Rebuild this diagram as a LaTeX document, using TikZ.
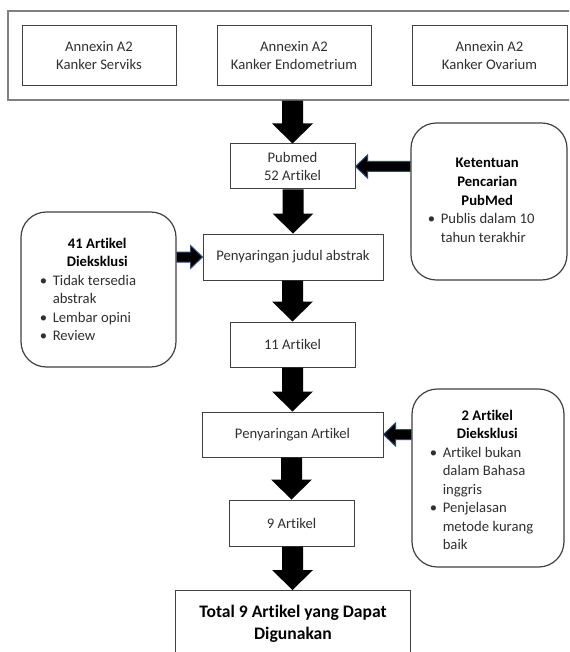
\documentclass[tikz,border=0pt]{standalone}
\usepackage{fontspec}
\setmainfont{Carlito}[Ligatures={NoCommon,NoRare,NoContextual}]
\usetikzlibrary{calc}
\newlength\pxu
\setlength\pxu{0.75pt}
\definecolor{boxline}{HTML}{404040}
\definecolor{outerline}{HTML}{808080}
\definecolor{arrowline}{HTML}{2F4A7A}
\definecolor{txt}{HTML}{303030}
\newcommand\bul{\makebox[13\pxu][l]{\textbullet}}
\newcommand\cont{\hspace*{13\pxu}}
\newcommand\blockdown[2]{%
  \fill[black] let \p1=(#1.south), \p2=(#2.north) in
   (\x2-10.5\pxu,\y1) -- (\x2-10.5\pxu,\y2+20\pxu) -- (\x2-20.5\pxu,\y2+20\pxu) -- (\x2,\y2)
   -- (\x2+20.5\pxu,\y2+20\pxu) -- (\x2+10.5\pxu,\y2+20\pxu) -- (\x2+10.5\pxu,\y1) -- cycle;}
\newcommand\blockleft[2]{%
  \filldraw[harrow] let \p1=(#1.west), \p2=(#2.east) in
   (\x1,\y2+5\pxu) -- (\x2+12\pxu,\y2+5\pxu) -- (\x2+12\pxu,\y2+11.5\pxu) -- (\x2,\y2)
   -- (\x2+12\pxu,\y2-11.5\pxu) -- (\x2+12\pxu,\y2-5\pxu) -- (\x1,\y2-5\pxu);}
\newcommand\blockright[2]{%
  \filldraw[harrow] let \p1=(#1.east), \p2=(#2.west) in
   (\x1,\y2+5\pxu) -- (\x2-12\pxu,\y2+5\pxu) -- (\x2-12\pxu,\y2+11.5\pxu) -- (\x2,\y2)
   -- (\x2-12\pxu,\y2-11.5\pxu) -- (\x2-12\pxu,\y2-5\pxu) -- (\x1,\y2-5\pxu);}
\tikzset{
  harrow/.style={fill=black, draw=arrowline, line width=0.75pt, line join=miter},
  plainbox/.style={draw=boxline, line width=0.75pt, fill=white, inner sep=0pt,
    align=center, text=txt, font=\fontsize{11pt}{13.5pt}\selectfont},
  outerbox/.style={draw=outerline, line width=0.9pt, fill=white, inner sep=0pt},
  roundbox/.style={draw=boxline, line width=0.9pt, fill=white, rounded corners=19pt, inner sep=0pt},
  listtext/.style={inner sep=0pt, text=txt, font=\fontsize{11pt}{13.9pt}\selectfont},
  finalfont/.style={inner sep=0pt, align=center, text=black, font=\fontsize{13.2pt}{16.5pt}\selectfont\bfseries}
}
\begin{document}
\begin{tikzpicture}[x=0.75pt,y=-0.75pt]
\useasboundingbox (0,0) rectangle (569,652);
\fill[white] (0,0) rectangle (569,652);
\clip (0,0) rectangle (569,652);

% top group
\node[outerbox, minimum width=567\pxu, minimum height=89\pxu] (outer) at (291.5,55.5) {};
\node[plainbox, minimum width=154\pxu, minimum height=60\pxu] (ann1) at (99,56) {Annexin A2\\Kanker Serviks};
\node[plainbox, minimum width=154\pxu, minimum height=60\pxu] (ann2) at (294,56) {Annexin A2\\Kanker Endometrium};
\node[plainbox, minimum width=155\pxu, minimum height=60\pxu] (ann3) at (489.5,56) {Annexin A2\\Kanker Ovarium};

% main flow
\node[plainbox, minimum width=125\pxu, minimum height=45\pxu] (pubmed) at (292.5,166.5) {Pubmed\\52 Artikel};
\node[plainbox, minimum width=180\pxu, minimum height=46\pxu] (judul) at (293,257) {Penyaringan judul abstrak};
\node[plainbox, minimum width=125\pxu, minimum height=45\pxu] (n11) at (292.5,344.5) {11 Artikel};
\node[plainbox, minimum width=181\pxu, minimum height=45\pxu] (pa) at (292.5,434.5) {Penyaringan Artikel};
\node[plainbox, minimum width=125\pxu, minimum height=46\pxu] (n9) at (291.5,523) {9 Artikel};
\node[plainbox, anchor=north, minimum width=235\pxu, minimum height=100\pxu] (final) at (292.5,590) {};
\node[finalfont] (finaltext) at (293,624) {Total 9 Artikel yang Dapat\\Digunakan};

% side boxes
\node[roundbox, minimum width=156\pxu, minimum height=157\pxu] (ket) at (489,201.5) {};
\node[listtext, anchor=base west] (kettxt) at (427.5,168) {\parbox[t]{119\pxu}{%
  \centering\leavevmode\bfseries\color{black}Ketentuan\\Pencarian\\PubMed\par
  \raggedright\mdseries\leavevmode\color{txt}\bul Publis dalam 10\\\cont tahun terakhir}};

\node[roundbox, minimum width=155\pxu, minimum height=155\pxu] (excl1) at (98.5,289.5) {};
\node[listtext, anchor=base west] (excl1txt) at (39.5,248) {\parbox[t]{115\pxu}{%
  \centering\leavevmode\bfseries\color{black}41 Artikel\\Dieksklusi\par
  \raggedright\mdseries\leavevmode\color{txt}\bul Tidak tersedia\\\cont abstrak\\\bul Lembar opini\\\bul Review}};

\node[roundbox, minimum width=152\pxu, minimum height=178\pxu] (excl2) at (488,478) {};
\node[listtext, anchor=base west] (excl2txt) at (429.5,420) {\parbox[t]{115\pxu}{%
  \centering\leavevmode\bfseries\color{black}2 Artikel\\Dieksklusi\par
  \raggedright\mdseries\leavevmode\color{txt}\bul Artikel bukan\\\cont dalam Bahasa\\\cont inggris\\\bul Penjelasan\\\cont metode kurang\\\cont baik}};

% connectors
\blockdown{outer}{pubmed}
\blockdown{pubmed}{judul}
\blockdown{judul}{n11}
\blockdown{n11}{pa}
\blockdown{pa}{n9}
\blockdown{n9}{final}
\blockleft{ket}{pubmed}
\blockright{excl1}{judul}
\blockleft{excl2}{pa}
\end{tikzpicture}
\end{document}
